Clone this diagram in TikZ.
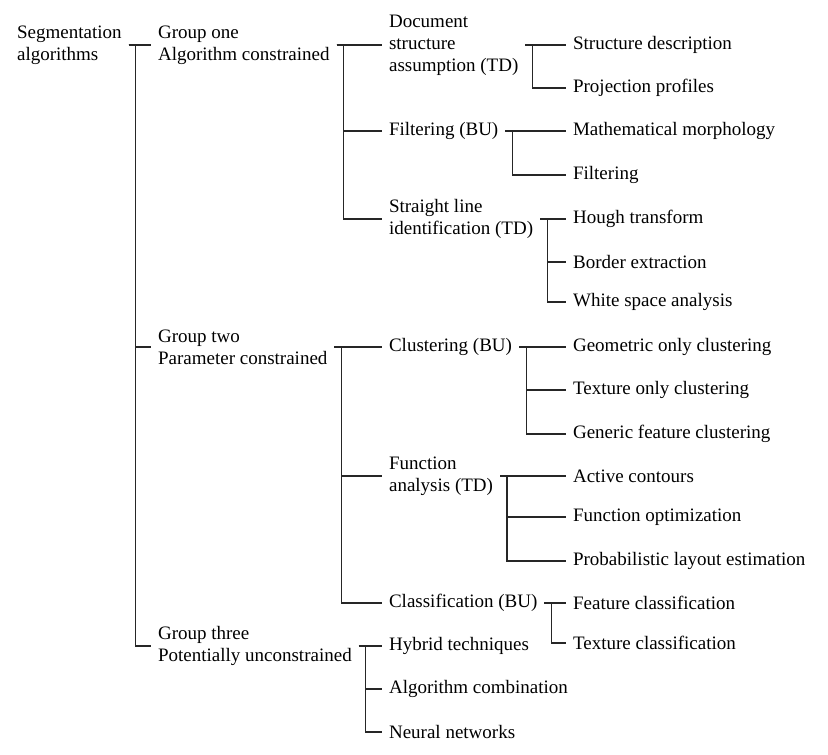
\documentclass[tikz,border=0pt]{standalone}
\usepackage{fontspec}
\setmainfont{Liberation Serif}
\begin{document}
\begin{tikzpicture}[x=0.5pt,y=-0.5pt,
		item/.style={anchor=west, align=left, font=\fontsize{9.5}{11}\selectfont},
		branch/.style={line width=0.6pt, draw=black!85}]
	\useasboundingbox (0,0) rectangle (828,754);
	% root and groups
	\node[item] (seg) at (10,45) {Segmentation\\algorithms};
	\node[item] (grpone) at (151,45) {Group one\\Algorithm constrained};
	\node[item] (grptwo) at (151,347) {Group two\\Parameter constrained};
	\node[item] (grpthree) at (151,646) {Group three\\Potentially unconstrained};
	% approaches
	\node[item] (docstruct) at (382,45) {Document\\structure\\assumption (TD)};
	\node[item] (filterbu) at (382,131) {Filtering (BU)};
	\node[item] (straight) at (382,219) {Straight line\\identification (TD)};
	\node[item] (cluster) at (382,347) {Clustering (BU)};
	\node[item] (funcan) at (382,476) {Function\\analysis (TD)};
	\node[item] (classif) at (382,603) {Classification (BU)};
	\node[item] (hybrid) at (382,646) {Hybrid techniques};
	\node[item] (algcomb) at (382,689) {Algorithm combination};
	\node[item] (neural) at (382,732) {Neural networks};
	% methods
	\node[item] (structdesc) at (566,45) {Structure description};
	\node[item] (projprof) at (566,88) {Projection profiles};
	\node[item] (mathmorph) at (566,131) {Mathematical morphology};
	\node[item] (filtering) at (566,175) {Filtering};
	\node[item] (hough) at (566,219) {Hough transform};
	\node[item] (border) at (566,262) {Border extraction};
	\node[item] (whitespace) at (566,302) {White space analysis};
	\node[item] (geomclust) at (566,347) {Geometric only clustering};
	\node[item] (texclust) at (566,390) {Texture only clustering};
	\node[item] (genclust) at (566,434) {Generic feature clustering};
	\node[item] (active) at (566,476) {Active contours};
	\node[item] (funcopt) at (566,517) {Function optimization};
	\node[item] (problayout) at (566,561) {Probabilistic layout estimation};
	\node[item] (featclass) at (566,603) {Feature classification};
	\node[item] (texclass) at (566,643) {Texture classification};
	% brackets
	\foreach \p/\c in {seg/grpone, seg/grptwo, seg/grpthree,
			grpone/docstruct, grpone/filterbu, grpone/straight,
			grptwo/cluster, grptwo/funcan, grptwo/classif,
			grpthree/hybrid, grpthree/algcomb, grpthree/neural,
			docstruct/structdesc, docstruct/projprof,
			filterbu/mathmorph, filterbu/filtering,
			straight/hough, straight/border, straight/whitespace,
			cluster/geomclust, cluster/texclust, cluster/genclust,
			funcan/active, funcan/funcopt, funcan/problayout,
			classif/featclass, classif/texclass}
		\draw[branch] (\p.east) -- ++(3.5pt,0) |- (\c.west);
\end{tikzpicture}
\end{document}
